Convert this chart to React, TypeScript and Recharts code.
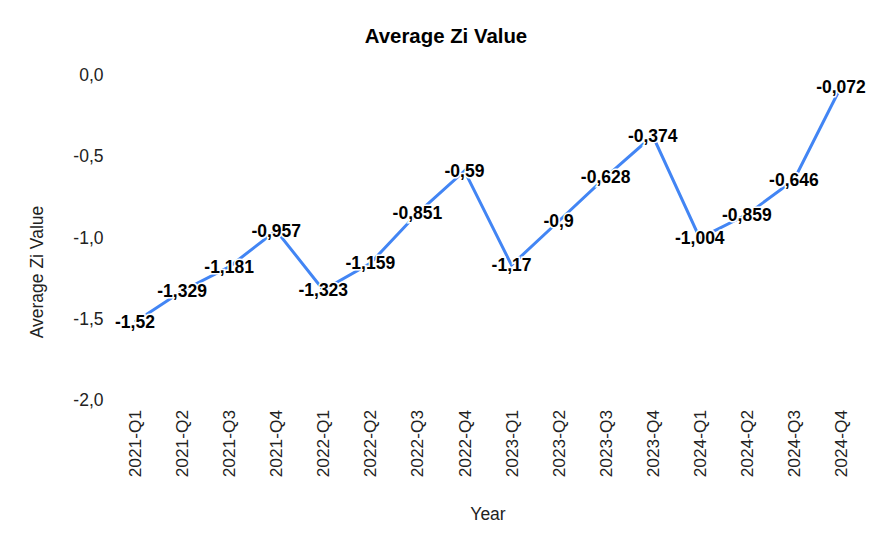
import React from 'react';
import { LineChart, Line, XAxis, YAxis, LabelList } from 'recharts';

const quarters = [
  '2021-Q1', '2021-Q2', '2021-Q3', '2021-Q4',
  '2022-Q1', '2022-Q2', '2022-Q3', '2022-Q4',
  '2023-Q1', '2023-Q2', '2023-Q3', '2023-Q4',
  '2024-Q1', '2024-Q2', '2024-Q3', '2024-Q4',
];
const avgZi = [
  -1.52, -1.329, -1.181, -0.957,
  -1.323, -1.159, -0.851, -0.59,
  -1.17, -0.9, -0.628, -0.374,
  -1.004, -0.859, -0.646, -0.072,
];
const yTicks = [-2, -1.5, -1, -0.5, 0];

const data = quarters.map((q, i) => ({ quarter: q, value: avgZi[i] }));

const FONT = '"Liberation Sans", Arial, sans-serif';

// comma decimal, like the original
const fmtTick = (v: number) => v.toFixed(1).replace('.', ',');
const fmtValue = (v: number) => String(v).replace('.', ',');

const RotatedTick = (props: any) => {
  const { x, y, payload } = props;
  return (
    <g transform={`translate(${x},${y})`}>
      <text
        transform="rotate(-90)"
        x={-10}
        y={0}
        dy="0.35em"
        textAnchor="end"
        fontSize={17.3}
        fontFamily={FONT}
        fill="#222"
      >
        {payload.value}
      </text>
    </g>
  );
};

const PointLabel = (props: any) => {
  const { x, y, value } = props;
  return (
    <text
      x={x}
      y={y}
      dy="0.35em"
      textAnchor="middle"
      fontSize={17.5}
      fontWeight="bold"
      fontFamily={FONT}
      fill="#000"
      stroke="#fff"
      strokeWidth={3}
      paintOrder="stroke"
    >
      {fmtValue(value)}
    </text>
  );
};

export default function App() {
  return (
    <div style={{ position: 'absolute', left: 0, top: 0, width: 892, height: 551, background: '#fff' }}>
      <div
        style={{
          position: 'absolute',
          top: 25,
          left: 0,
          width: 892,
          textAlign: 'center',
          fontFamily: FONT,
          fontWeight: 'bold',
          fontSize: 20.4,
          color: '#000',
        }}
      >
        Average Zi Value
      </div>
      <LineChart
        width={892}
        height={551}
        data={data}
        margin={{ top: 75, right: 27.5, left: 51.5, bottom: 51 }}
      >
        <XAxis
          dataKey="quarter"
          height={100}
          axisLine={false}
          tickLine={false}
          tickSize={0}
          tickMargin={0}
          interval={0}
          padding={{ left: 23.5, right: 23.5 }}
          tick={<RotatedTick />}
          label={{
            content: () => (
              <text x={488} y={514} dy="0.35em" textAnchor="middle" fontSize={17.5} fontFamily={FONT} fill="#222">
                Year
              </text>
            ),
          }}
        />
        <YAxis
          width={60}
          domain={[-2, 0]}
          ticks={yTicks}
          axisLine={false}
          tickLine={false}
          tickFormatter={fmtTick}
          tick={{ fontSize: 17.5, fontFamily: FONT, fill: '#222' }}
          label={{
            content: () => (
              <text
                x={37}
                y={272}
                dy="0.35em"
                textAnchor="middle"
                transform="rotate(-90 37 272)"
                fontSize={17.5}
                fontFamily={FONT}
                fill="#222"
              >
                Average Zi Value
              </text>
            ),
          }}
        />
        <Line
          type="linear"
          dataKey="value"
          stroke="#4285F4"
          strokeWidth={3}
          dot={false}
          activeDot={false}
          isAnimationActive={false}
        >
          <LabelList dataKey="value" content={<PointLabel />} />
        </Line>
      </LineChart>
    </div>
  );
}
